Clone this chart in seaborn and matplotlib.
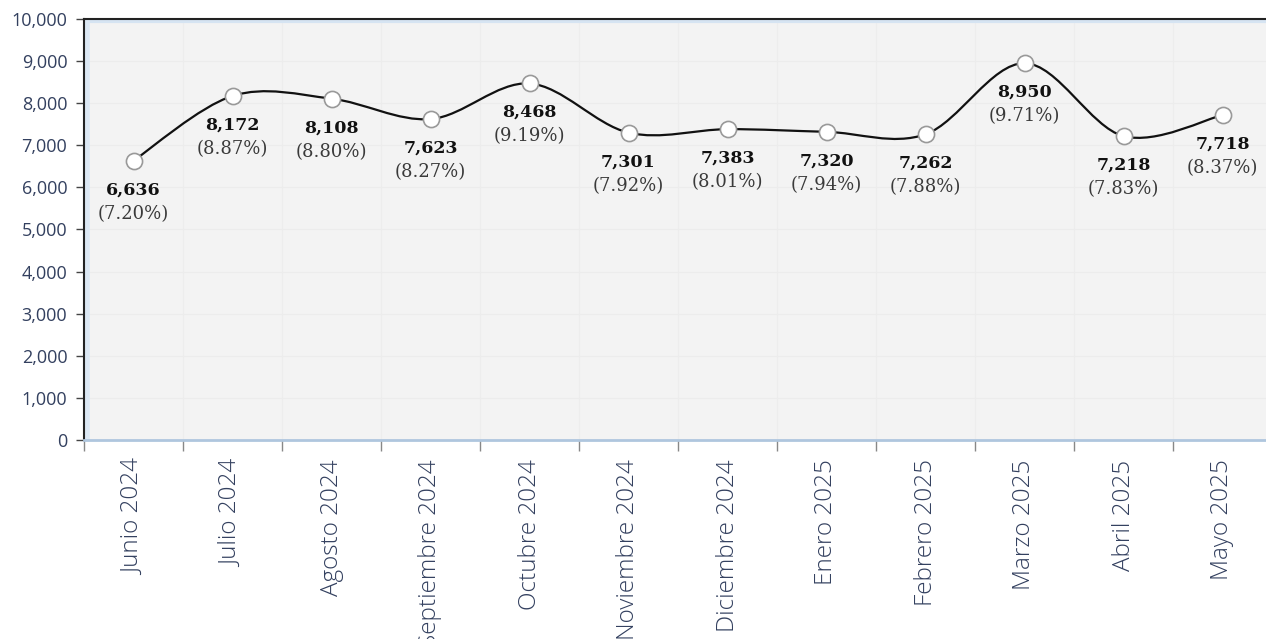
import matplotlib

matplotlib.use("Agg")

import matplotlib.pyplot as plt
import numpy as np
import pandas as pd
import seaborn as sns
from matplotlib.path import Path
from matplotlib.patches import PathPatch
from matplotlib.ticker import FuncFormatter, MultipleLocator


MONTHS = [
    "Junio 2024", "Julio 2024", "Agosto 2024", "Septiembre 2024",
    "Octubre 2024", "Noviembre 2024", "Diciembre 2024", "Enero 2025",
    "Febrero 2025", "Marzo 2025", "Abril 2025", "Mayo 2025",
]
VALUES = [6636, 8172, 8108, 7623, 8468, 7301, 7383, 7320, 7262, 8950, 7218, 7718]
SHARES = ["7.20%", "8.87%", "8.80%", "8.27%", "9.19%", "7.92%",
          "8.01%", "7.94%", "7.88%", "9.71%", "7.83%", "8.37%"]

TICK_COLOR = "#33405F"

df = pd.DataFrame({"month": MONTHS, "value": VALUES, "share": SHARES})
df["pos"] = np.arange(len(df))

sns.set_theme(style="white")
plt.rcParams["font.family"] = ["Open Sans", "DejaVu Sans"]

fig = plt.figure(figsize=(12.66, 6.39), dpi=100)
ax = fig.add_axes([84 / 1266, 199 / 639, 1188 / 1266, 421 / 639])
ax.set_facecolor("#F3F3F3")


def smooth_path(xs, ys, t=1 / 6):
    # Catmull-Rom style bezier through the points, like Excel's smoothed line
    verts = [(xs[0], ys[0])]
    codes = [Path.MOVETO]
    n = len(xs)
    for i in range(n - 1):
        x0, y0 = (xs[i - 1], ys[i - 1]) if i > 0 else (xs[i], ys[i])
        x3, y3 = (xs[i + 2], ys[i + 2]) if i + 2 < n else (xs[i + 1], ys[i + 1])
        c1 = (xs[i] + (xs[i + 1] - x0) * t, ys[i] + (ys[i + 1] - y0) * t)
        c2 = (xs[i + 1] - (x3 - xs[i]) * t, ys[i + 1] - (y3 - ys[i]) * t)
        verts += [c1, c2, (xs[i + 1], ys[i + 1])]
        codes += [Path.CURVE4] * 3
    return Path(verts, codes)


ax.add_patch(PathPatch(smooth_path(df["pos"].tolist(), df["value"].tolist()),
                       facecolor="none", edgecolor="#111111", lw=1.6, zorder=3))
sns.scatterplot(data=df, x="pos", y="value", ax=ax, s=135, color="white",
                edgecolor="#999999", linewidth=1.2, zorder=4, legend=False)

for _, row in df.iterrows():
    ax.annotate(f"{row['value']:,}", (row["pos"], row["value"]), xytext=(0, -29),
                textcoords="offset pixels", ha="center", va="center",
                fontsize=12.5, fontweight="bold", family="DejaVu Serif", color="#111111")
    ax.annotate(f"({row['share']})", (row["pos"], row["value"]), xytext=(0, -53),
                textcoords="offset pixels", ha="center", va="center",
                fontsize=13, family="DejaVu Serif", color="#3A3A3A")

ax.set_xlim(-0.5, len(df) - 0.5)
ax.set_ylim(0, 10000)
ax.yaxis.set_major_locator(MultipleLocator(1000))
ax.yaxis.set_major_formatter(FuncFormatter(lambda v, _: f"{int(v):,}"))
ax.set_xticks(df["pos"])
ax.set_xticklabels(MONTHS, rotation=90, fontweight="light")
ax.set_xticks(np.arange(-0.5, len(df), 1), minor=True)
ax.tick_params(axis="x", which="major", length=0, pad=14, labelsize=17.5, labelcolor=TICK_COLOR)
ax.tick_params(axis="x", which="minor", length=8, width=1, color="#888888", bottom=True)
ax.tick_params(axis="y", length=6, width=1, color="#444444", left=True, pad=6,
               labelsize=13, labelcolor=TICK_COLOR)
ax.set_xlabel("")
ax.set_ylabel("")

ax.grid(True, axis="y", color="#ECECEC", lw=0.8)
ax.grid(True, axis="x", which="minor", color="#EDEDED", lw=0.8)
ax.set_axisbelow(True)

for side in ["left", "top"]:
    ax.spines[side].set_color("#222222")
    ax.spines[side].set_linewidth(1.5)
ax.spines["bottom"].set_color("#AFC6DE")
ax.spines["bottom"].set_linewidth(2)
ax.spines["right"].set_visible(False)
# soft blue inner edge along the top and left of the plot area
ax.axhline(9960, color="#D6E4F2", lw=3, zorder=1)
ax.axvline(-0.47, color="#DCE8F4", lw=4, zorder=1)

fig.savefig("out.png", dpi=100)
